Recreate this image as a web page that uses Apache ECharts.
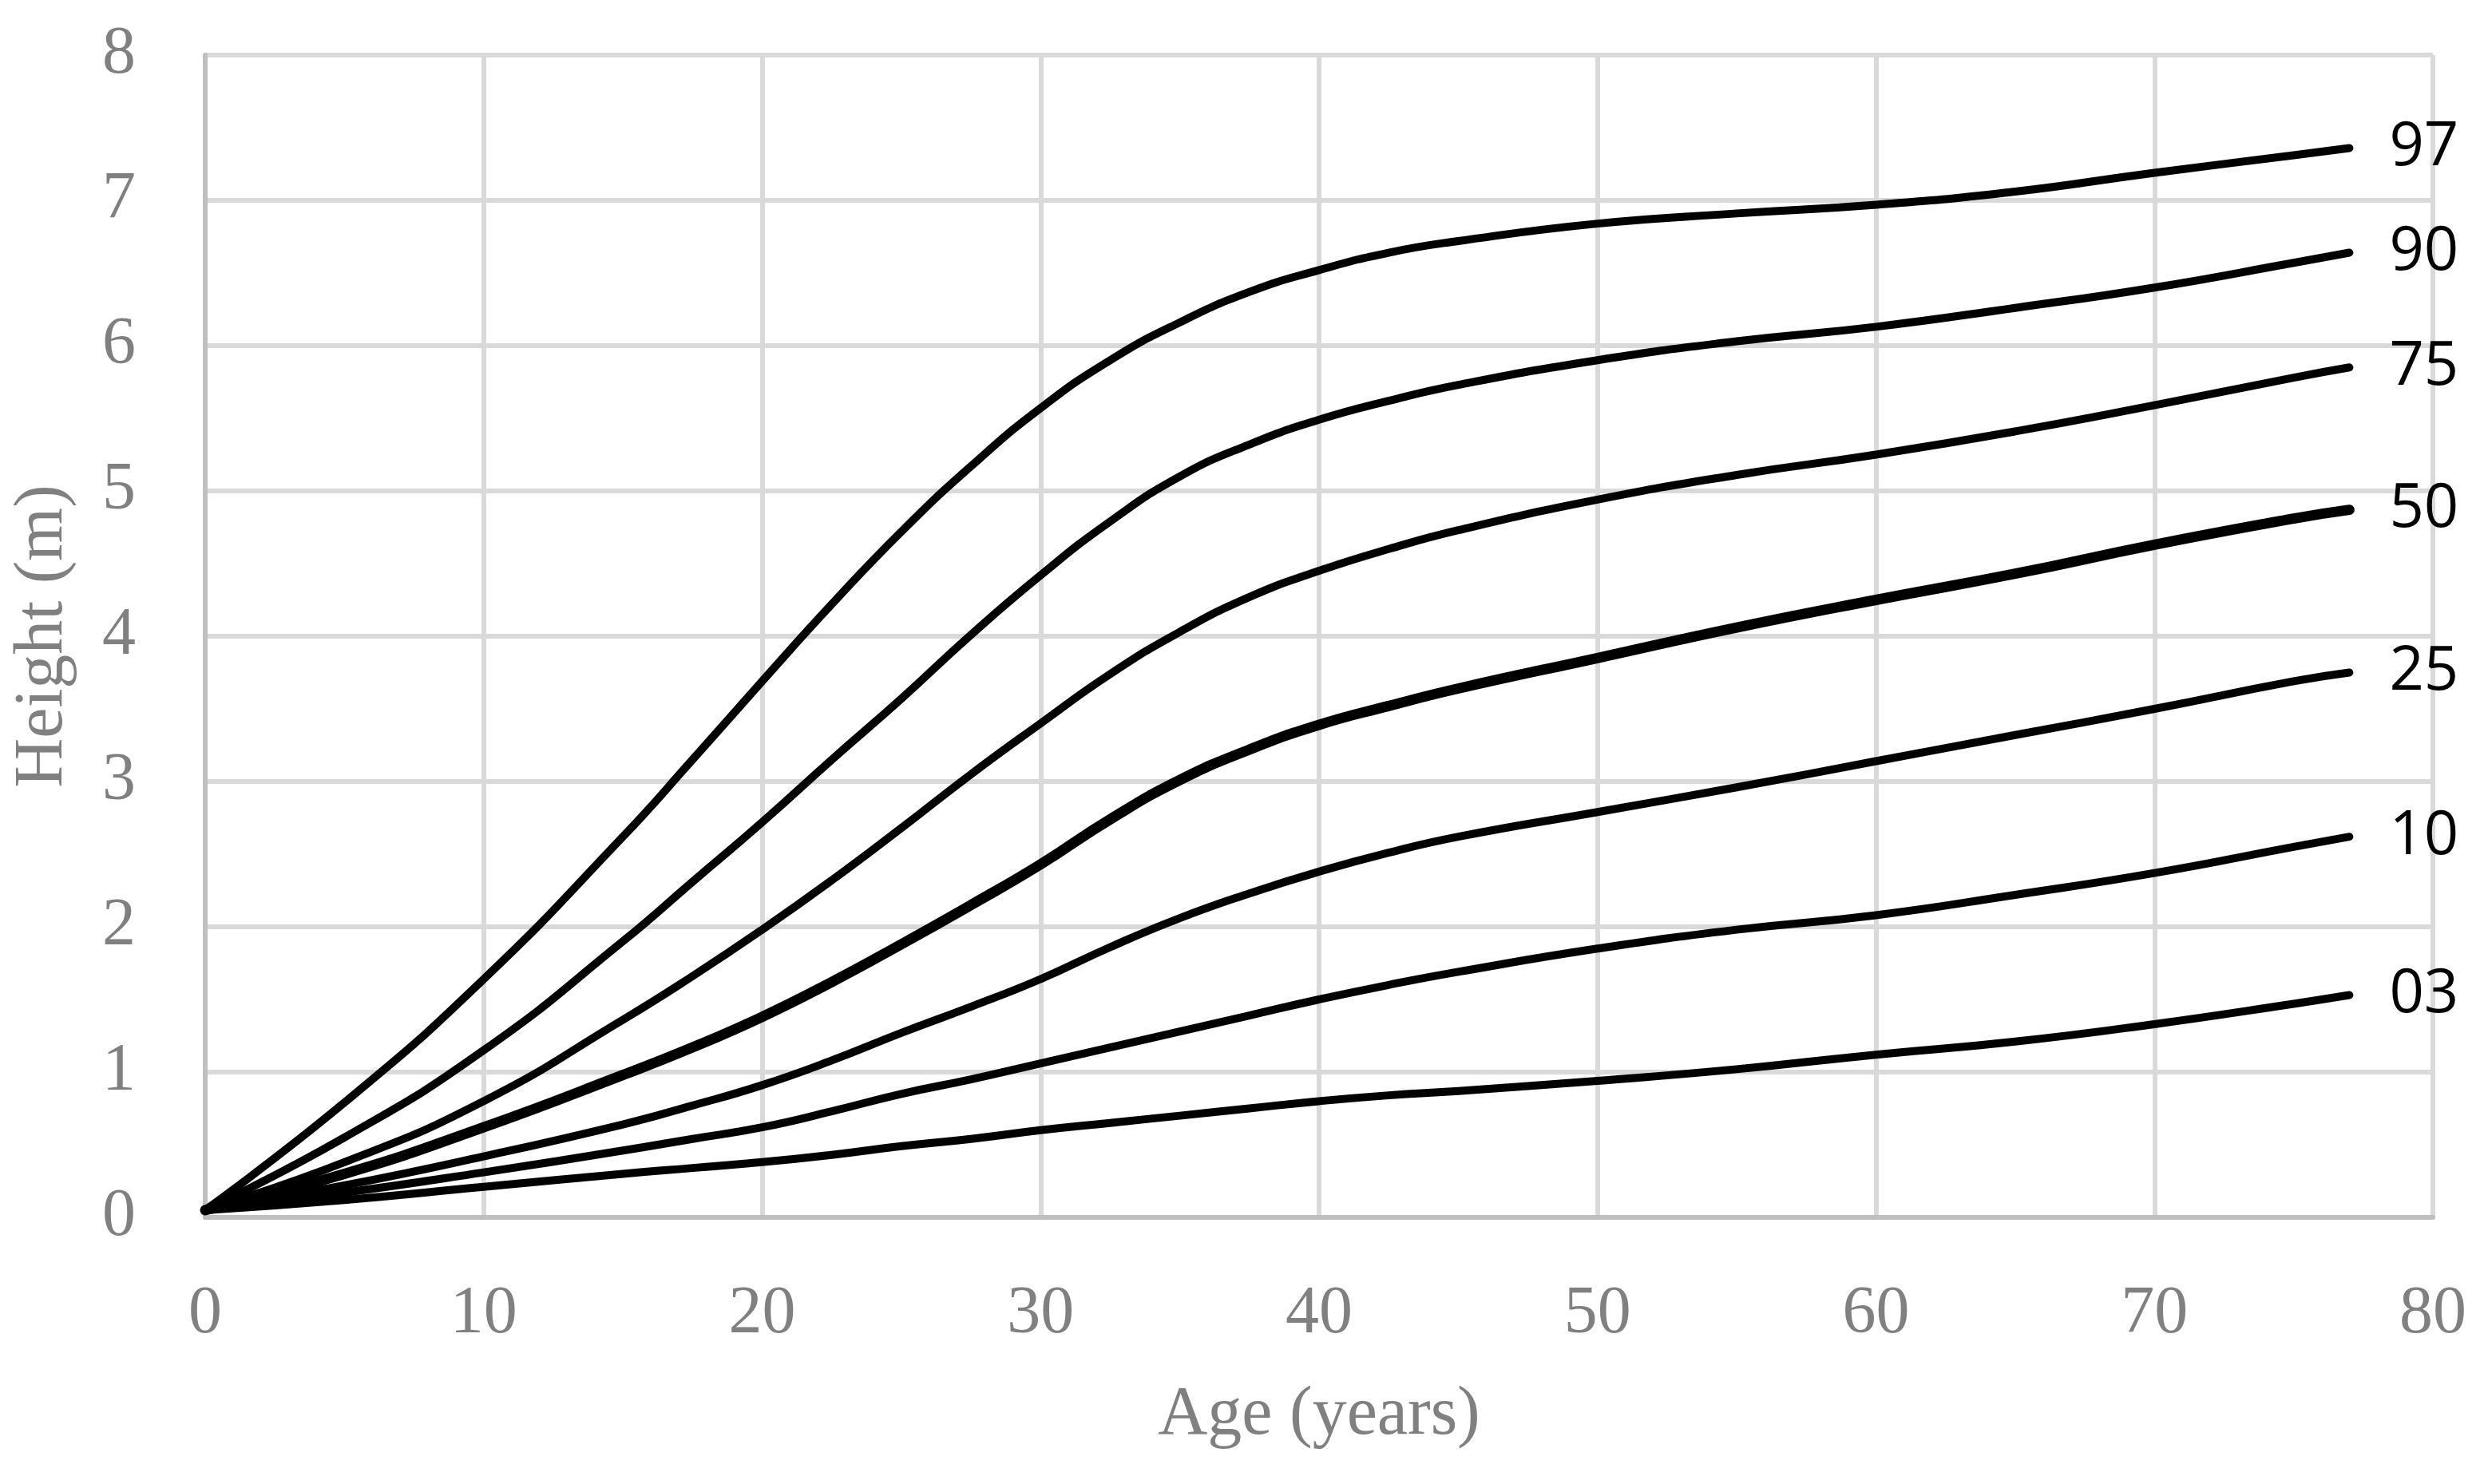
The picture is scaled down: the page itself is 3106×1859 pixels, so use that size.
<!DOCTYPE html>
<html>
<head>
<meta charset="utf-8">
<script src="https://cdn.jsdelivr.net/npm/echarts@6/dist/echarts.min.js"></script>
<style>
html,body{margin:0;padding:0;background:#fff;}
#chart{width:3106px;height:1859px;}
</style>
</head>
<body>
<div id="chart"></div>
<script>
const ages = [0, 5, 10, 15, 17.5, 20, 22.5, 25, 27.5, 30, 32.5, 35, 37.5, 40, 42.5, 45, 50, 55, 60, 65, 70, 75, 77];
const p97 = [0.05, 0.79, 1.64, 2.62, 3.15, 3.69, 4.22, 4.72, 5.17, 5.57, 5.90, 6.16, 6.37, 6.52, 6.64, 6.72, 6.84, 6.91, 6.97, 7.06, 7.19, 7.31, 7.36];
const p90 = [0.05, 0.55, 1.15, 1.90, 2.31, 2.72, 3.15, 3.57, 4.01, 4.42, 4.79, 5.10, 5.32, 5.49, 5.62, 5.73, 5.90, 6.03, 6.13, 6.26, 6.40, 6.57, 6.64];
const p75 = [0.05, 0.38, 0.80, 1.36, 1.66, 1.98, 2.32, 2.68, 3.05, 3.40, 3.74, 4.03, 4.27, 4.45, 4.60, 4.73, 4.94, 5.11, 5.25, 5.41, 5.59, 5.78, 5.85];
const p50 = [0.05, 0.30, 0.62, 0.98, 1.17, 1.38, 1.62, 1.88, 2.15, 2.43, 2.74, 3.01, 3.22, 3.39, 3.52, 3.64, 3.85, 4.06, 4.25, 4.43, 4.63, 4.81, 4.87];
const p25 = [0.05, 0.22, 0.42, 0.64, 0.77, 0.91, 1.08, 1.27, 1.45, 1.64, 1.86, 2.06, 2.23, 2.38, 2.51, 2.62, 2.79, 2.96, 3.14, 3.32, 3.50, 3.69, 3.75];
const p10 = [0.05, 0.17, 0.31, 0.46, 0.54, 0.62, 0.73, 0.85, 0.95, 1.06, 1.17, 1.28, 1.39, 1.50, 1.60, 1.69, 1.85, 1.98, 2.08, 2.22, 2.37, 2.55, 2.62];
const p03 = [0.05, 0.12, 0.21, 0.30, 0.34, 0.38, 0.43, 0.49, 0.54, 0.60, 0.65, 0.70, 0.75, 0.80, 0.84, 0.87, 0.94, 1.02, 1.12, 1.21, 1.33, 1.47, 1.53];
const seriesNames = ['97', '90', '75', '50', '25', '10', '03'];
const seriesValues = [p97, p90, p75, p50, p25, p10, p03];
const xTicks = [0, 10, 20, 30, 40, 50, 60, 70, 80];
const yTicks = [0, 1, 2, 3, 4, 5, 6, 7, 8];

const serif = '"Liberation Serif", "Times New Roman", serif';
const chart = echarts.init(document.getElementById('chart'));
chart.setOption({
  animation: false,
  backgroundColor: '#ffffff',
  grid: { left: 257, right: 59, top: 69, bottom: 334, containLabel: false },
  xAxis: {
    type: 'value', min: xTicks[0], max: xTicks[xTicks.length - 1], interval: 10,
    name: 'Age (years)', nameLocation: 'middle', nameGap: 205,
    nameTextStyle: { fontFamily: serif, fontSize: 86, color: '#808080' },
    axisLine: { show: true, lineStyle: { color: '#bfbfbf', width: 6 } },
    axisTick: { show: false },
    axisLabel: { fontFamily: serif, fontSize: 84, color: '#808080', margin: 80 },
    splitLine: { show: true, lineStyle: { color: '#d9d9d9', width: 6 } }
  },
  yAxis: {
    type: 'value', min: yTicks[0], max: yTicks[yTicks.length - 1], interval: 1,
    name: 'Height (m)', nameLocation: 'middle', nameGap: 160,
    nameTextStyle: { fontFamily: serif, fontSize: 86, color: '#808080' },
    axisLine: { show: true, lineStyle: { color: '#bfbfbf', width: 6 } },
    axisTick: { show: false },
    axisLabel: { fontFamily: serif, fontSize: 84, color: '#808080', margin: 87 },
    splitLine: { show: true, lineStyle: { color: '#d9d9d9', width: 6 } }
  },
  series: seriesNames.map((name, i) => ({
    name: name,
    type: 'line',
    smooth: 0.5,
    symbol: 'none',
    data: ages.map((a, j) => [a, seriesValues[i][j]]),
    lineStyle: { color: '#000000', width: name === '50' ? 13 : 10, cap: 'round', join: 'round' },
    endLabel: {
      show: true, formatter: '{a}', distance: 50,
      fontFamily: '"Open Sans", "Noto Sans", sans-serif', fontSize: 76, color: '#000000'
    }
  }))
});
</script>
</body>
</html>
